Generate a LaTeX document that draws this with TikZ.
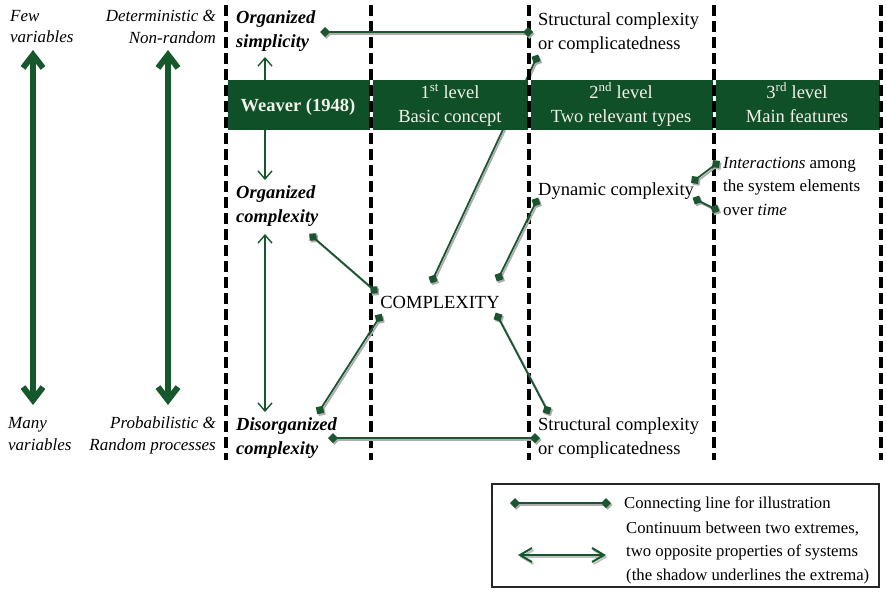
\documentclass[tikz,border=0pt]{standalone}
\usepackage{fontspec}
\setmainfont{Liberation Serif}
\usetikzlibrary{arrows.meta}

\definecolor{bandgreen}{RGB}{16,80,40}
\definecolor{arrowgreen}{RGB}{22,88,44}
\definecolor{linkgreen}{RGB}{28,86,48}
\definecolor{bandtext}{RGB}{242,242,234}

\tikzset{
  txt/.style={inner sep=0pt, align=left, font=\fontsize{18.5}{24}\selectfont},
  sidetxt/.style={inner sep=0pt, font=\fontsize{17}{21.5}\selectfont\itshape},
  typetxt/.style={inner sep=0pt, align=left, font=\fontsize{18.5}{24}\selectfont\bfseries\itshape},
  bandlbl/.style={inner sep=0pt, align=center, text=bandtext, font=\fontsize{18.5}{24}\selectfont},
  legtxt/.style={inner sep=0pt, align=left, font=\fontsize{16.7}{23.5}\selectfont},
  guide/.style={draw=black, line width=3.5pt, dash pattern=on 11pt off 5pt},
  guidegap/.style={draw=white, line width=3pt},
  link/.style={draw=linkgreen, line width=1.8pt,
    arrows={Turned Square[length=10pt,width=10pt]-Turned Square[length=10pt,width=10pt]},
    shorten <=-5pt, shorten >=-5pt},
  linkshadow/.style={link, draw=black!32, fill=black!32,
    transform canvas={shift={(1.5,1.8)}}},
  bigarrow/.style={draw=arrowgreen, line width=6pt,
    arrows={Straight Barb[length=13pt,width=20pt]-Straight Barb[length=13pt,width=20pt]}},
  thinarrow/.style={draw=arrowgreen, line width=1.4pt,
    arrows={-Straight Barb[length=8pt,width=14pt]}},
  thinboth/.style={draw=arrowgreen, line width=1.4pt,
    arrows={Straight Barb[length=8pt,width=14pt]-Straight Barb[length=8pt,width=14pt]}},
  legarrow/.style={draw=arrowgreen, line width=2pt,
    arrows={Straight Barb[length=12pt,width=14pt]-Straight Barb[length=12pt,width=14pt]}},
  legarrowshadow/.style={legarrow, draw=black!25, transform canvas={shift={(1.5,2)}}},
}

\begin{document}
\begin{tikzpicture}[x=1pt,y=-1pt]
\useasboundingbox (0,0) rectangle (886,592);

% link from the upper structural type to the basic concept (runs behind the band)
\coordinate (s1) at (536,59);
\coordinate (k1) at (433,279);
\draw[linkshadow] (s1) -- (k1);
\draw[link] (s1) -- (k1);

% header band
\fill[bandgreen] (226,80) rectangle (881,130);

% column guides
\foreach \gx/\gn in {226/g0, 371/g1, 529/g2, 714/g3, 881/g4} {
  \coordinate (\gn t) at (\gx,5);
  \coordinate (\gn b) at (\gx,460);
  \draw[guidegap] (\gx,80) -- (\gx,130);
  \draw[guide] (\gn t) -- (\gn b);
}

% band labels
\node[bandlbl, font=\fontsize{18.5}{24}\selectfont\bfseries, anchor=base] (weaver) at (298,111) {Weaver (1948)};
\node[bandlbl, anchor=base] (lvl1) at (450,122) {1\textsuperscript{st} level\\Basic concept};
\node[bandlbl, anchor=base] (lvl2) at (621,122) {2\textsuperscript{nd} level\\Two relevant types};
\node[bandlbl, anchor=base] (lvl3) at (797,122) {3\textsuperscript{rd} level\\Main features};

% side scales
\node[sidetxt, align=left, anchor=base west] (few) at (10,42.5) {Few\\variables};
\node[sidetxt, align=right, anchor=base east] (det) at (216,43) {Deterministic \&\\Non-random};
\node[sidetxt, align=left, anchor=base west] (many) at (8,450) {Many\\variables};
\node[sidetxt, align=right, anchor=base east] (prob) at (216,450) {Probabilistic \&\\Random processes};
\coordinate (va) at (33,50);
\coordinate (vb) at (33,405);
\coordinate (da) at (168,50);
\coordinate (db) at (168,405);
\draw[bigarrow] (va) -- (vb);
\draw[bigarrow] (da) -- (db);

% Weaver's three types
\node[typetxt, anchor=base west] (osimp) at (236,47.5) {Organized\\simplicity};
\node[typetxt, anchor=base west] (ocomp) at (236,222) {Organized\\complexity};
\node[typetxt, anchor=base west] (dcomp) at (236,454) {Disorganized\\complexity};
\coordinate (wu0) at (265,80);
\coordinate (wu1) at (265,57);
\coordinate (wd0) at (265,130);
\coordinate (wd1) at (265,180);
\coordinate (wc0) at (265,234);
\coordinate (wc1) at (265,412);
\draw[thinarrow] (wu0) -- (wu1);
\draw[thinarrow] (wd0) -- (wd1);
\draw[thinboth] (wc0) -- (wc1);

% concepts
\node[txt, anchor=base] (cplx) at (440,308) {COMPLEXITY};
\node[txt, anchor=base west] (struct1) at (538,49) {Structural complexity\\or complicatedness};
\node[txt, anchor=base west] (dyn) at (538,195) {Dynamic complexity};
\node[txt, anchor=base west] (struct2) at (538,454) {Structural complexity\\or complicatedness};
\node[inner sep=0pt, align=left, font=\fontsize{17}{23.5}\selectfont, anchor=base west] (feat) at (723,215)
  {\textit{Interactions} among\\the system elements\\over \textit{time}};

% connecting lines
\foreach \a/\b in {{(325,32)}/{(528,32)}, {(313,237)}/{(374,290)}, {(320,410)}/{(379,318)},
                   {(499,277)}/{(536,202)}, {(498,317)}/{(547,410)}, {(333,438)}/{(535,438)},
                   {(695,180)}/{(716,164)}, {(697,200)}/{(715,209)}} {
  \draw[linkshadow] \a -- \b;
  \draw[link] \a -- \b;
}

% legend
\draw[line width=1.2pt, draw=black!85] (492,484) rectangle (879,587);
\coordinate (l1a) at (515,503);
\coordinate (l1b) at (606,503);
\draw[linkshadow] (l1a) -- (l1b);
\draw[link] (l1a) -- (l1b);
\node[legtxt, anchor=base west] (leg1) at (624,508) {Connecting line for illustration};
\coordinate (l2a) at (518,555);
\coordinate (l2b) at (606,555);
\draw[legarrowshadow] (l2a) -- (l2b);
\draw[legarrow] (l2a) -- (l2b);
\node[legtxt, anchor=base west] (leg2) at (626,580)
  {Continuum between two extremes,\\two opposite properties of systems\\(the shadow underlines the extrema)};
\end{tikzpicture}
\end{document}
